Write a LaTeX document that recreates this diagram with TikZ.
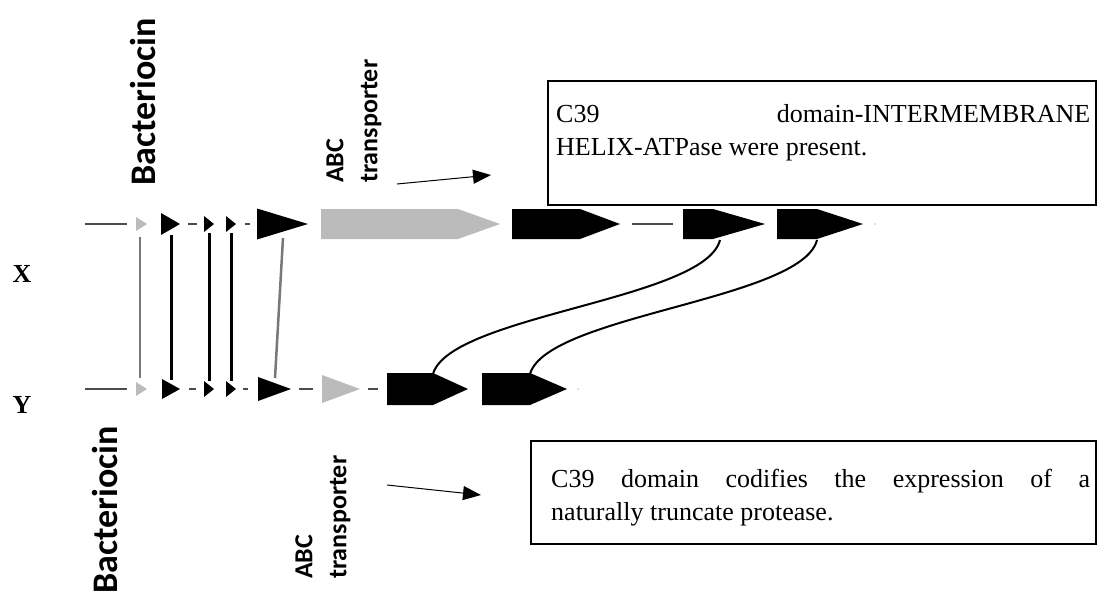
\documentclass[tikz,border=0pt]{standalone}
\usepackage{fontspec}
\setmainfont{Liberation Serif}
\newfontfamily\calib{Carlito}
\usetikzlibrary{arrows.meta}
\definecolor{abcgray}{RGB}{187,187,187}
\definecolor{linkgray}{RGB}{120,120,120}
\newcommand\genetri[5]{\fill[#1] (#2,#4-#5) -- (#3,#4) -- (#2,#4+#5) -- cycle;}
\newcommand\genearrow[6]{\fill[#1] (#2,#5-#6) -- (#3,#5-#6) -- (#4,#5) -- (#3,#5+#6) -- (#2,#5+#6) -- cycle;}
\begin{document}
\begin{tikzpicture}[x=1pt,y=-1pt,
  spacer/.style={line width=1.2pt,black!70},
  blink/.style={line width=3pt,black},
  glink/.style={line width=2.5pt,linkgray},
  syn/.style={line width=2pt,black},
  ptr/.style={line width=1pt,-{Triangle[length=18pt,width=14pt]}},
  biglbl/.style={font=\calib\bfseries\fontsize{36}{40}\selectfont,rotate=90,inner sep=0pt},
  abclbl/.style={font=\calib\bfseries\fontsize{26}{34}\selectfont,rotate=90,inner sep=0pt,align=left},
  rowlbl/.style={font=\bfseries\fontsize{26}{26}\selectfont,inner sep=0pt},
  notebox/.style={draw,line width=1.8pt,inner sep=0pt,anchor=north west},
  notetxt/.style={font=\fontsize{26}{33}\selectfont,inner sep=0pt,align=left,anchor=base west}]
\useasboundingbox (0,0) rectangle (1097,597);

% ---- top track (X)
\draw[spacer] (85,224) -- (127,224);
\genetri{abcgray}{136}{147}{224}{7}
\genetri{black}{161}{180}{224}{11}
\draw[spacer] (188,224) -- (197,224);
\genetri{black}{204}{214}{224}{8}
\genetri{black}{226}{236}{224}{8}
\draw[spacer] (245,224) -- (250,224);
\genetri{black}{257}{308}{224}{15.5}
\genearrow{abcgray}{321}{458}{500}{224}{15}
\genearrow{black}{512}{580}{620}{224}{15}
\draw[spacer] (632,224) -- (673,224);
\genearrow{black}{683}{713}{765}{224}{15}
\genearrow{black}{777}{817}{863}{224}{15}
\fill[black!20] (875,224) circle (1);

% ---- bottom track (Y)
\draw[spacer] (85,389) -- (127,389);
\genetri{abcgray}{136}{147}{389}{7}
\genetri{black}{162}{180}{389}{10}
\draw[spacer] (189,389) -- (196,389);
\genetri{black}{204}{214}{389}{8}
\genetri{black}{226}{236}{389}{8}
\draw[spacer] (243,389) -- (248,389);
\genetri{black}{258}{291}{389}{12}
\draw[spacer] (299,389) -- (313,389);
\genetri{abcgray}{322}{360}{389}{14}
\draw[spacer] (368,389) -- (378,389);
\genearrow{black}{387}{433}{468}{389}{16}
\genearrow{black}{482}{530}{567}{389}{16}
\fill[black!20] (578,389) circle (1);

% ---- link end points
\coordinate (ta) at (140,237); \coordinate (ba) at (140,378);
\coordinate (tb) at (171,235); \coordinate (bb) at (171,380);
\coordinate (tc) at (209,233); \coordinate (bc) at (209,381);
\coordinate (td) at (231,233); \coordinate (bd) at (231,381);
\coordinate (te) at (283,238); \coordinate (be) at (275,378);
\coordinate (tf) at (720,240); \coordinate (bf) at (433,374);
\coordinate (tg) at (817,240); \coordinate (bg) at (530,374);

\draw[glink] (ta) -- (ba);
\draw[blink] (tb) -- (bb);
\draw[blink] (tc) -- (bc);
\draw[blink] (td) -- (bd);
\draw[glink] (te) -- (be);
\draw[syn] (tf) .. controls (705,300) and (450,315) .. (bf);
\draw[syn] (tg) .. controls (802,300) and (547,315) .. (bg);

% ---- labels
\node[biglbl] (bac1) at (143,102) {Bacteriocin};
\node[biglbl] (bac2) at (105,510) {Bacteriocin};
\node[abclbl,anchor=north west] (abc1) at (326,183) {ABC\\transporter};
\node[abclbl,anchor=north west] (abc2) at (295,579) {ABC\\transporter};
\node[rowlbl] (rx) at (22,274) {X};
\node[rowlbl] (ry) at (22,405) {Y};

% ---- pointers
\coordinate (p1s) at (397,184); \coordinate (p1e) at (491,175);
\coordinate (p2s) at (387,485); \coordinate (p2e) at (481,495);
\draw[ptr] (p1s) -- (p1e);
\draw[ptr] (p2s) -- (p2e);

% ---- note boxes
\node[notebox,minimum width=548pt,minimum height=124pt] (box1) at (547,80) {};
\node[notetxt] (note1) at (556,155) {\makebox[534pt][s]{C39 domain-INTERMEMBRANE}\\HELIX-ATPase were present.};
\node[notebox,minimum width=565pt,minimum height=103pt] (box2) at (530,440) {};
\node[notetxt] (note2) at (551,520) {\makebox[539pt][s]{C39 domain codifies the expression of a}\\naturally truncate protease.};
\end{tikzpicture}
\end{document}
